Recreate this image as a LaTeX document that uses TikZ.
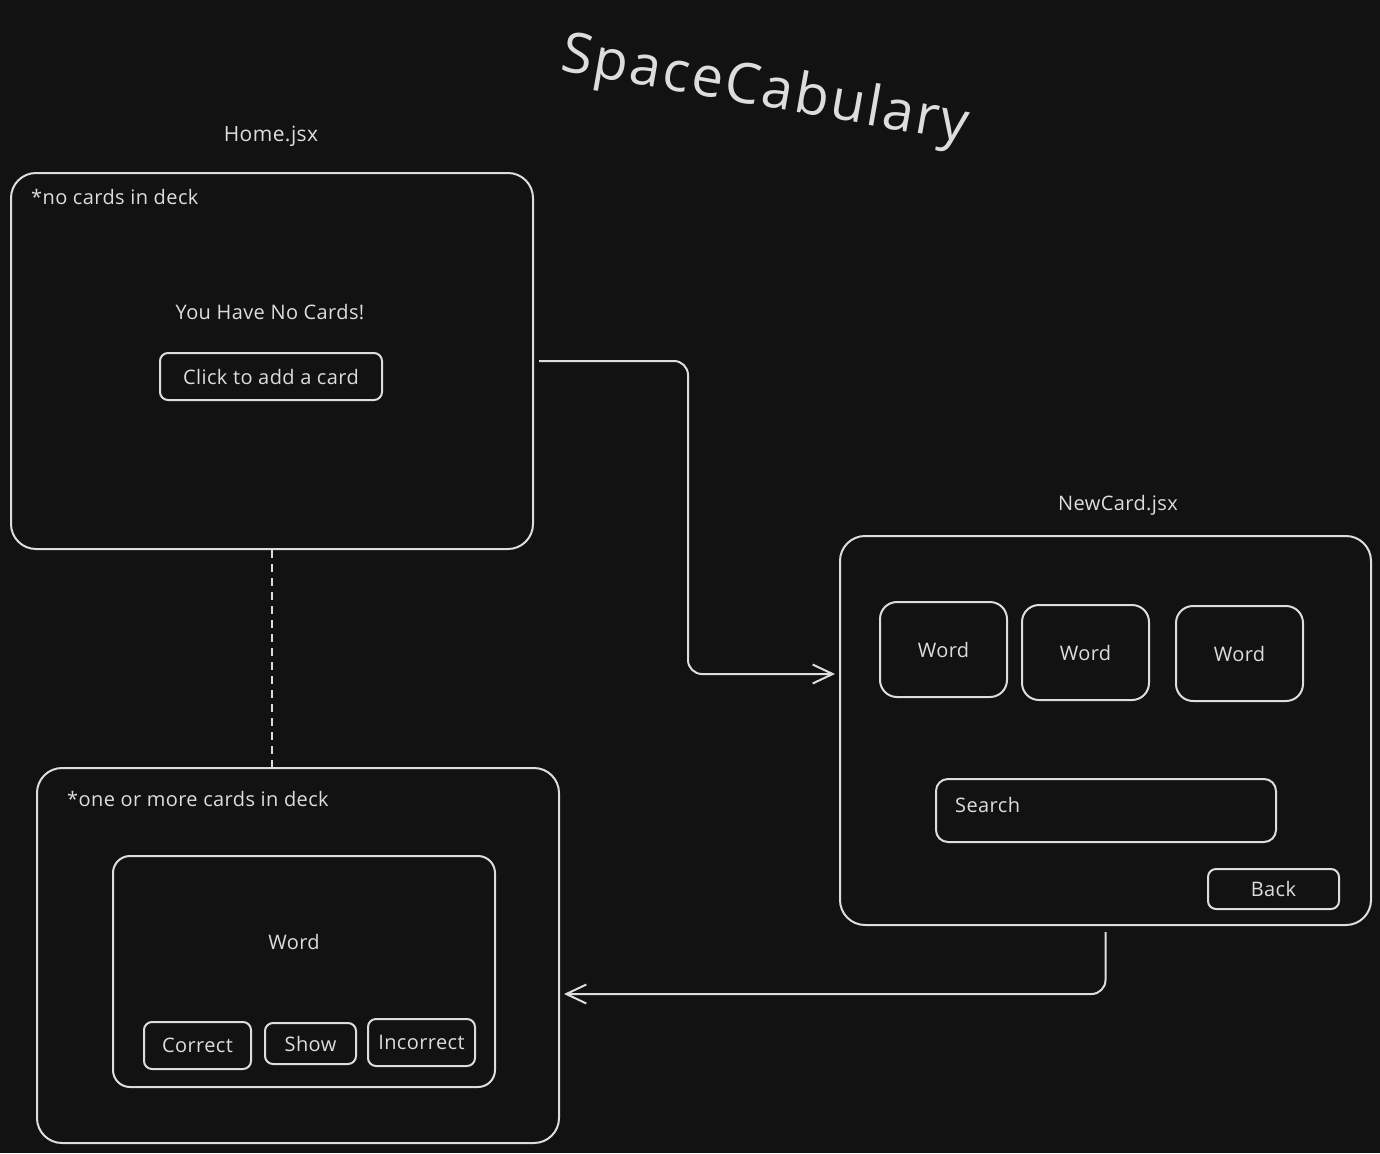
\documentclass[tikz,border=0pt]{standalone}
\usepackage{fontspec}
\setmainfont{Open Sans}
\newfontfamily\sketchfont[LetterSpace=2]{Open Sans}
\newfontfamily\titlefont[LetterSpace=4]{Open Sans}
\usetikzlibrary{arrows.meta,positioning}
\definecolor{bg}{HTML}{121212}
\definecolor{ink}{HTML}{DDDDDD}
\tikzset{
    %Define standard arrow tip
    >={Straight Barb[length=20pt,width=19pt,line width=2pt]},
    %Define style for screens
    screen/.style={
           rectangle,
           rounded corners=25pt,
           draw=ink, line width=2pt,
           inner sep=0pt,
           anchor=north west},
    card/.style={
           screen,
           rounded corners=17pt,
           text=ink,
           font=\sketchfont\fontsize{20}{24}\selectfont},
    btn/.style={
           screen,
           rounded corners=8pt,
           text=ink,
           font=\sketchfont\fontsize{20}{24}\selectfont},
    txt/.style={
           text=ink,
           inner sep=0pt,
           font=\sketchfont\fontsize{20}{24}\selectfont},
    % Define arrow style
    pil/.style={
           ->,
           draw=ink,
           line width=2pt,
           rounded corners=14pt}
}
\begin{document}
\begin{tikzpicture}[x=1pt,y=-1pt]
\useasboundingbox (0,0) rectangle (1380,1153);
\fill[bg] (0,0) rectangle (1380,1153);
\node[txt, font=\titlefont\fontsize{56}{62}\selectfont, rotate=-10] (title) at (765,92) {SpaceCabulary};
% home screen
\node[screen, minimum width=522pt, minimum height=376pt] (home) at (10,172) {};
\node[txt, font=\sketchfont\fontsize{21}{25}\selectfont] (homelbl) at (271,136) {Home.jsx};
\node[txt, anchor=west] (nocards) at (31,197) {*no cards in deck};
\node[txt] (havenone) at (270,312) {You Have No Cards!};
\node[btn, minimum width=222pt, minimum height=47pt] (add) at (159,352) {Click to add a card};
% deck screen
\node[screen, minimum width=522pt, minimum height=375pt] (deck) at (36,767) {};
\node[txt, anchor=west] (somecards) at (67,799) {*one or more cards in deck};
\node[card, minimum width=382pt, minimum height=231pt] (flash) at (112,855) {};
\node[txt] (flashword) at (294,942) {Word};
\node[btn, minimum width=107pt, minimum height=47pt] (correct) at (143,1021) {Correct};
\node[btn, minimum width=91pt, minimum height=41pt] (show) at (264,1022) {Show};
\node[btn, minimum width=107pt, minimum height=47pt] (incorrect) at (367,1018) {Incorrect};
% new card screen
\node[screen, minimum width=531pt, minimum height=389pt] (newcard) at (839,535) {};
\node[txt] (newlbl) at (1118,505) {NewCard.jsx};
\foreach \x/\y [count=\i] in {879/601, 1021/604, 1175/605}
    \node[card, minimum width=127pt, minimum height=95pt] (word\i) at (\x,\y) {Word};
\node[btn, rounded corners=12pt, minimum width=340pt, minimum height=63pt] (search) at (935,778) {};
\node[txt, anchor=west] (searchtxt) at (955,805) {Search};
\node[btn, minimum width=131pt, minimum height=40pt] (back) at (1207,868) {Back};
% connectors
\draw[draw=ink, line width=2pt, dash pattern=on 8pt off 6pt] (home.south) -- (home.south |- deck.north);
\draw[pil] ([xshift=5pt]home.east) -- ++(149,0) |- ([xshift=-4pt,yshift=56.5pt]newcard.west);
\draw[pil] ([yshift=-6pt]newcard.south) |- ([xshift=4pt,yshift=-38.5pt]deck.east);
\end{tikzpicture}
\end{document}
